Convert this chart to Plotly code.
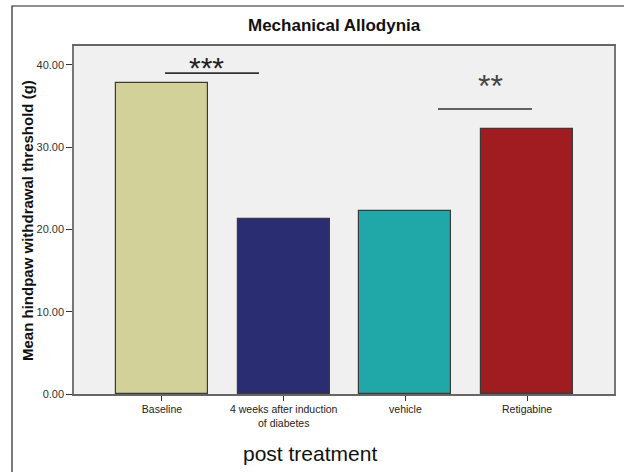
import plotly.graph_objects as go

categories = ["Baseline", "4 weeks after induction<br>of diabetes", "vehicle", "Retigabine"]
values = [37.8, 21.3, 22.25, 32.2]
bar_colors = ["#d3d19a", "#2b2d72", "#20a8a8", "#a01c20"]
y_ticks = [0, 10, 20, 30, 40]
y_tick_labels = ["0.00", "10.00", "20.00", "30.00", "40.00"]
sig_labels = ["***", "**"]

x_pos = list(range(len(categories)))

# plot area in pixels (for placing paper-referenced items)
L, R, T, B = 74, 614, 46, 394
W, H = R - L, B - T


def px_to_paper_x(px):
    return (px - L) / W


def px_to_paper_y(py):
    return (B - py) / H


fig = go.Figure()
fig.add_trace(go.Bar(
    x=x_pos, y=values, width=0.756,
    marker=dict(color=bar_colors, line=dict(color="#3a3a3a", width=1.2)),
    showlegend=False, hoverinfo="skip",
))

# significance brackets
fig.add_shape(type="line", xref="x", yref="y", x0=0.025, x1=0.797, y0=39.0, y1=39.0,
              line=dict(color="#333333", width=1.6))
fig.add_shape(type="line", xref="x", yref="y", x0=2.268, x1=3.04, y0=34.65, y1=34.65,
              line=dict(color="#333333", width=1.6))
fig.add_annotation(x=0.362, y=40.1, xref="x", yref="y", text=sig_labels[0], showarrow=False,
                   font=dict(family="Liberation Sans, Arial", size=30, color="#222222"),
                   yanchor="middle", yshift=-3)
fig.add_annotation(x=2.70, y=37.9, xref="x", yref="y", text=sig_labels[1], showarrow=False,
                   font=dict(family="Liberation Sans, Arial", size=32, color="#444444"),
                   yanchor="middle", yshift=-4)

# outer frame (left and top edges)
fig.add_shape(type="rect", xref="paper", yref="paper",
              x0=px_to_paper_x(12), x1=px_to_paper_x(640),
              y0=px_to_paper_y(490), y1=px_to_paper_y(6),
              line=dict(color="#222222", width=1.2), layer="below")

# titles
fig.add_annotation(x=px_to_paper_x(334), y=px_to_paper_y(26), xref="paper", yref="paper",
                   text="<b>Mechanical Allodynia</b>", showarrow=False,
                   font=dict(size=17, color="#111111"), xanchor="center", yanchor="middle")
fig.add_annotation(x=px_to_paper_x(27), y=px_to_paper_y(221), xref="paper", yref="paper",
                   text="<b>Mean hindpaw withdrawal threshold (g)</b>", showarrow=False,
                   textangle=-90, font=dict(size=15, color="#111111"),
                   xanchor="center", yanchor="middle")
fig.add_annotation(x=px_to_paper_x(310), y=px_to_paper_y(453), xref="paper", yref="paper",
                   text="post treatment", showarrow=False,
                   font=dict(size=21, color="#111111"), xanchor="center", yanchor="middle")

fig.update_layout(
    width=624, height=472,
    margin=dict(l=L, r=624 - R, t=T, b=472 - B, autoexpand=False),
    paper_bgcolor="white", plot_bgcolor="#f0f0f0",
    font=dict(family="Liberation Sans, Arial", color="#222222"),
    bargap=0,
)
fig.update_xaxes(
    range=[-0.723, 3.714], tickvals=x_pos, ticktext=categories,
    ticks="outside", ticklen=5, tickcolor="#333333",
    tickfont=dict(size=10.5, color="#222222"),
    showline=True, linecolor="#666666", linewidth=1.5, mirror=True,
    showgrid=False, zeroline=False,
)
fig.update_yaxes(
    range=[0, 42.3], tickvals=y_ticks, ticktext=y_tick_labels,
    ticks="outside", ticklen=6, tickcolor="#333333",
    tickfont=dict(size=11, color="#333333"),
    showline=True, linecolor="#777777", linewidth=1.5, mirror=True,
    showgrid=False, zeroline=False,
)

fig.write_html("out.html", config={"displayModeBar": False},
               post_script="document.body.style.margin='0px';")
